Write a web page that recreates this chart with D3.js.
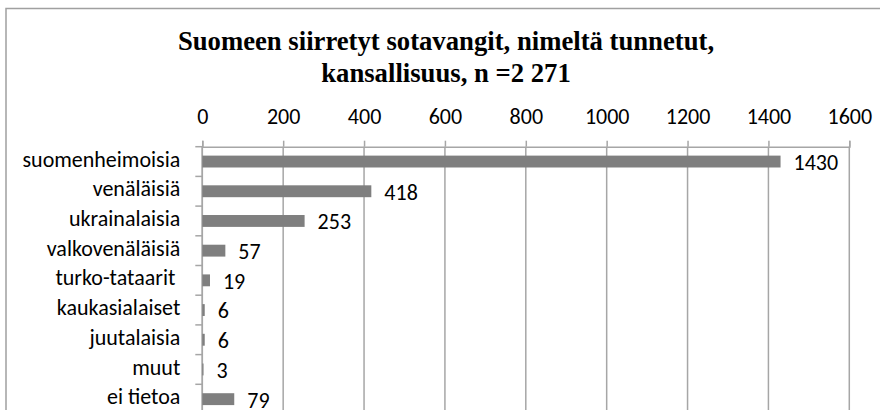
<!DOCTYPE html>
<html>
<head>
<meta charset="utf-8">
<script src="https://cdn.jsdelivr.net/npm/d3@7"></script>
<style>
    body { margin: 0; background: #fff; }
    svg { display: block; }
    .lbl { font-family: Carlito, Lato, "Liberation Sans", sans-serif; fill: #000; }
</style>
</head>
<body>
<div class="demo"></div>
<script>
(function() {
    var categories = ["suomenheimoisia", "venäläisiä", "ukrainalaisia", "valkovenäläisiä",
        "turko-tataarit ", "kaukasialaiset", "juutalaisia", "muut", "ei tietoa"];
    var values = [1430, 418, 253, 57, 19, 6, 6, 3, 79];
    var xTicks = [0, 200, 400, 600, 800, 1000, 1200, 1400, 1600];
    var titleLines = ["Suomeen siirretyt sotavangit, nimeltä tunnetut,", "kansallisuus, n =2 271"];

    var width = 880,
        height = 410;

    var plotTop = 146.7,
        plotBottom = 414,
        plotLeft = 202.3,
        plotRight = 849.3;

    var gridColor = "#a6a6a6",
        barColor = "#7f7f7f",
        fontSize = 22;

    var svg = d3.select(".demo").append("svg")
        .attr("width", width)
        .attr("height", height);

    // chart border (runs off the right and bottom edge in the original)
    svg.append("rect")
        .attr("x", 6)
        .attr("y", 8.5)
        .attr("width", 900)
        .attr("height", 450)
        .attr("fill", "none")
        .attr("stroke", "#a0a0a0")
        .attr("stroke-width", 1.5);

    // title
    svg.append("g").selectAll("text")
        .data(titleLines)
        .enter().append("text")
        .attr("x", 446)
        .attr("y", function(d, i) { return 50 + i * 32; })
        .attr("text-anchor", "middle")
        .style("font-family", "'Liberation Serif', 'Times New Roman', serif")
        .style("font-weight", "bold")
        .style("font-size", "26.7px")
        .text(function(d) { return d; });

    var x = d3.scaleLinear()
        .domain([0, 1600])
        .range([plotLeft, plotRight]);

    var y = d3.scaleBand()
        .domain(categories)
        .range([plotTop, plotBottom])
        .paddingInner(0.6)
        .paddingOuter(0.3);

    // vertical gridlines
    svg.append("g").selectAll("line")
        .data(xTicks)
        .enter().append("line")
        .attr("x1", function(d) { return x(d); })
        .attr("x2", function(d) { return x(d); })
        .attr("y1", plotTop)
        .attr("y2", plotBottom)
        .attr("stroke", gridColor)
        .attr("stroke-width", 1.5);

    // value axis on top
    var xAxis = svg.append("g")
        .attr("transform", "translate(0," + plotTop + ")")
        .call(d3.axisTop(x).tickValues(xTicks).tickSize(6).tickPadding(17).tickFormat(d3.format("d")));
    xAxis.select(".domain").attr("stroke", gridColor).attr("stroke-width", 1.5);
    xAxis.selectAll(".tick line").attr("stroke", gridColor).attr("stroke-width", 1.5);
    xAxis.selectAll("text")
        .attr("class", "lbl")
        .attr("dy", 0)
        .style("font-size", fontSize + "px");
    xAxis.attr("font-family", null).attr("font-size", null);

    // category axis on the left, ticks between categories
    var step = y.step();
    var boundaries = d3.range(categories.length + 1).map(function(i) { return plotTop + i * step; });

    svg.append("line")
        .attr("x1", plotLeft).attr("x2", plotLeft)
        .attr("y1", plotTop).attr("y2", plotBottom)
        .attr("stroke", gridColor)
        .attr("stroke-width", 1.5);

    svg.append("g").selectAll("line")
        .data(boundaries)
        .enter().append("line")
        .attr("x1", plotLeft - 7)
        .attr("x2", plotLeft)
        .attr("y1", function(d) { return d; })
        .attr("y2", function(d) { return d; })
        .attr("stroke", gridColor)
        .attr("stroke-width", 1.5);

    var yAxis = svg.append("g")
        .attr("transform", "translate(" + plotLeft + ",0)")
        .call(d3.axisLeft(y).tickSize(0).tickPadding(22));
    yAxis.select(".domain").remove();
    yAxis.selectAll("text")
        .attr("class", "lbl")
        .attr("dy", "0.23em")
        .style("white-space", "pre")
        .style("font-size", fontSize + "px");
    yAxis.attr("font-family", null).attr("font-size", null);

    var data = categories.map(function(c, i) { return { name: c, value: values[i] }; });

    // bars
    svg.append("g").selectAll("rect")
        .data(data)
        .enter().append("rect")
        .attr("x", plotLeft)
        .attr("y", function(d) { return y(d.name); })
        .attr("width", function(d) { return x(d.value) - plotLeft; })
        .attr("height", y.bandwidth())
        .attr("fill", barColor);

    // value labels
    svg.append("g").selectAll("text")
        .data(data)
        .enter().append("text")
        .attr("class", "lbl")
        .attr("x", function(d) { return x(d.value) + 13; })
        .attr("y", function(d) { return y(d.name) + y.bandwidth() / 2; })
        .attr("dy", "0.38em")
        .style("font-size", fontSize + "px")
        .text(function(d) { return d.value; });
})();
</script>
</body>
</html>
